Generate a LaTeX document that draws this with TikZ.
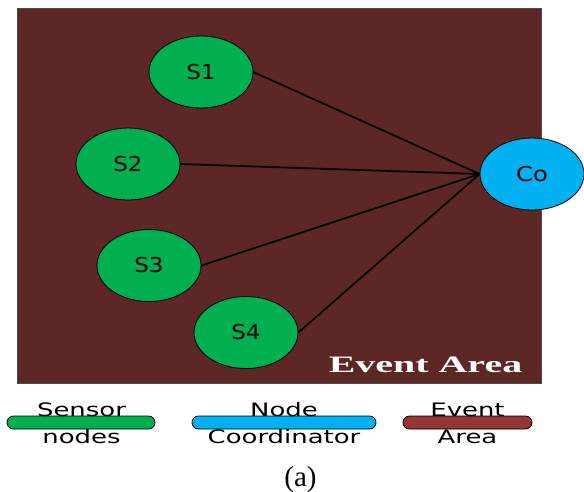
\documentclass[tikz,border=0pt]{standalone}
\usepackage{fontspec}
\usetikzlibrary{shapes.geometric}
\newfontfamily\dvsans{DejaVu Sans}
\newfontfamily\lserif{Liberation Serif}
\definecolor{areabg}{HTML}{5C2724}
\definecolor{sgreen}{HTML}{00B050}
\definecolor{cblue}{HTML}{00B0F0}
\definecolor{lbrown}{HTML}{943634}
\tikzset{
  sensor/.style={ellipse, draw=black, line width=0.8pt, fill=sgreen, minimum width=104pt, minimum height=72pt, inner sep=0pt, font=\dvsans\fontsize{20.5}{24}\selectfont},
  coord/.style={sensor, fill=cblue},
  link/.style={line width=1.7pt, black},
  pill/.style={draw=black, line width=0.8pt, rounded corners=6.5pt, minimum height=13pt, inner sep=0pt},
  legtext/.style={anchor=base, inner sep=0pt, font=\dvsans\fontsize{18.5}{20}\selectfont},
}
\begin{document}
\begin{tikzpicture}[x=1pt,y=-1pt]
\useasboundingbox (0,0) rectangle (584,491);
% event area
\path[fill=areabg, draw=gray!60!black, line width=0.8pt] (17,8) rectangle (541,383);
\node[anchor=base, inner sep=0pt, text=white, font=\lserif\bfseries\fontsize{23.5}{26}\selectfont] (ealabel) at (425.5,372) {\scalebox{1.7}[1]{Event Area}};
% nodes
\node[sensor] (S1) at (201,72) {\scalebox{1.12}[1]{S1}};
\node[sensor] (S2) at (128,164) {\scalebox{1.12}[1]{S2}};
\node[sensor] (S3) at (149,265.5) {\scalebox{1.12}[1]{S3}};
\node[sensor] (S4) at (246,332.5) {\scalebox{1.12}[1]{S4}};
\node[coord] (Co) at (532,174) {\scalebox{1.18}[1]{Co}};
% links
\draw[link] (S1.east) -- (Co.west);
\draw[link] (S2.east) -- (Co.west);
\draw[link] (S3.east) -- (Co.west);
\draw[link] (S4.east) -- (Co.west);
% legend
\node[pill, fill=sgreen, minimum width=148pt] (lg) at (81,422.5) {};
\node[pill, fill=cblue, minimum width=184pt] (lb) at (284,422.5) {};
\node[pill, fill=lbrown, minimum width=129pt] (lr) at (467.5,422.5) {};
\node[legtext] (lg1) at (81.5,416) {\scalebox{1.4}[1]{Sensor}};
\node[legtext] (lg2) at (81.5,443) {\scalebox{1.4}[1]{nodes}};
\node[legtext] (lb1) at (284,416) {\scalebox{1.4}[1]{Node}};
\node[legtext] (lb2) at (284,443) {\scalebox{1.4}[1]{Coordinator}};
\node[legtext] (lr1) at (467.5,416) {\scalebox{1.4}[1]{Event}};
\node[legtext] (lr2) at (467.5,443) {\scalebox{1.4}[1]{Area}};
% caption
\node[anchor=base, inner sep=0pt, font=\lserif\fontsize{29}{32}\selectfont] (cap) at (300.5,486) {(a)};
\end{tikzpicture}
\end{document}
